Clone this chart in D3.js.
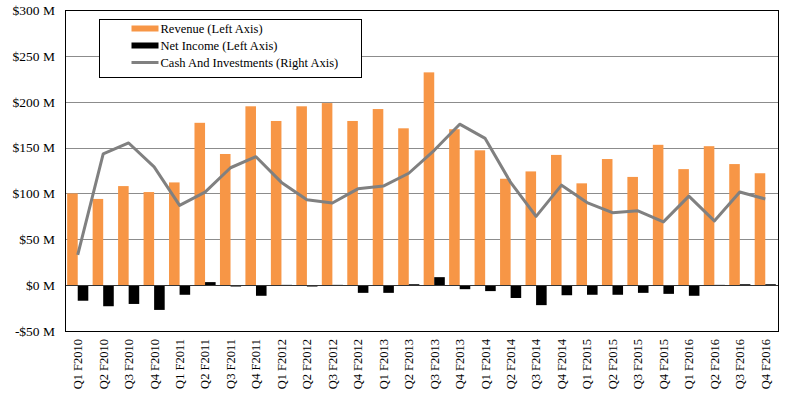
<!DOCTYPE html>
<html>
<head>
<meta charset="utf-8">
<script src="https://cdn.jsdelivr.net/npm/d3@7"></script>
<style>
  body { margin: 0; background: #fff; }
</style>
</head>
<body>
<svg id="chart" width="795" height="396"></svg>
<script>
var quarters = ["Q1 F2010","Q2 F2010","Q3 F2010","Q4 F2010","Q1 F2011","Q2 F2011","Q3 F2011","Q4 F2011",
  "Q1 F2012","Q2 F2012","Q3 F2012","Q4 F2012","Q1 F2013","Q2 F2013","Q3 F2013","Q4 F2013",
  "Q1 F2014","Q2 F2014","Q3 F2014","Q4 F2014","Q1 F2015","Q2 F2015","Q3 F2015","Q4 F2015",
  "Q1 F2016","Q2 F2016","Q3 F2016","Q4 F2016"];

// $M, left axis
var revenue = [100, 94, 108, 101.5, 112, 177, 143, 195,
  179, 195, 198.5, 179, 192, 171, 232, 170,
  147, 116, 124, 142, 111, 137.5, 118, 153,
  126.5, 151.5, 132, 122];

var netIncome = [-17, -23, -20.5, -27, -10.5, 3.3, -1.5, -11.6,
  0.3, -1.5, 0.3, -8.4, -8.4, 1, 8.7, -4.4,
  -6.5, -14, -21.8, -11, -10.5, -10.5, -8.4, -9.5,
  -11.6, 0.3, 1, 1];

// $M, right axis
var cash = [33, 143, 155, 129, 87, 101.5, 128, 140,
  112, 93, 89.5, 105, 108, 122, 147, 175.5,
  160, 112, 75, 109, 90, 79, 81, 69,
  97, 70, 101.5, 94];

var leftTicks = [-50, 0, 50, 100, 150, 200, 250, 300];

var FONT = '"Liberation Serif", "Times New Roman", serif';

var svg = d3.select('#chart');
var margin = {left: 65, right: 17, top: 10, bottom: 65};
var width = 795 - margin.left - margin.right,
    height = 396 - margin.top - margin.bottom;

var g = svg.append('g')
    .attr('transform', 'translate(' + margin.left + ',' + margin.top + ')');

var x0 = d3.scaleBand().domain(quarters).range([0, width]).paddingInner(0.17).paddingOuter(0.085);
var x1 = d3.scaleBand().domain(['rev', 'ni']).range([0, x0.bandwidth()]);
var y = d3.scaleLinear().domain([-50, 300]).range([height, 0]);
var yRight = d3.scaleLinear().domain([-50, 300]).range([height, 0]);

// gridlines
g.append('g')
    .selectAll('line')
    .data(leftTicks.filter(function(d) { return d > -50 && d < 300 && d !== 0; }))
    .enter().append('line')
    .attr('x1', 0).attr('x2', width)
    .attr('y1', function(d) { return Math.round(y(d)) + 0.5; })
    .attr('y2', function(d) { return Math.round(y(d)) + 0.5; })
    .attr('stroke', '#8c8c8c')
    .attr('stroke-width', 1);

// bars
var groups = g.selectAll('.grp')
    .data(quarters)
    .enter().append('g')
    .attr('transform', function(d) { return 'translate(' + x0(d) + ',0)'; });

groups.append('rect')
    .attr('x', x1('rev'))
    .attr('width', x1.bandwidth())
    .attr('y', function(d, i) { return y(Math.max(0, revenue[i])); })
    .attr('height', function(d, i) { return Math.abs(y(revenue[i]) - y(0)); })
    .attr('fill', '#f79646');

groups.append('rect')
    .attr('x', x1('ni'))
    .attr('width', x1.bandwidth())
    .attr('y', function(d, i) { return y(Math.max(0, netIncome[i])); })
    .attr('height', function(d, i) { return Math.max(1, Math.abs(y(netIncome[i]) - y(0))); })
    .attr('fill', '#000');

// zero line
g.append('line')
    .attr('x1', 0).attr('x2', width)
    .attr('y1', Math.round(y(0)) + 0.5).attr('y2', Math.round(y(0)) + 0.5)
    .attr('stroke', '#333').attr('stroke-width', 1);

// cash line
var line = d3.line()
    .x(function(d, i) { return x0(quarters[i]) + x0.bandwidth() / 2; })
    .y(function(d) { return yRight(d); });

g.append('path')
    .datum(cash)
    .attr('d', line)
    .attr('fill', 'none')
    .attr('stroke', '#808080')
    .attr('stroke-width', 3)
    .attr('stroke-linejoin', 'round');

// frame
g.append('rect')
    .attr('x', 0.5).attr('y', 0.5)
    .attr('width', width).attr('height', height)
    .attr('fill', 'none')
    .attr('stroke', '#000')
    .attr('stroke-width', 1);

// left axis labels
var yAxis = d3.axisLeft(y).tickValues(leftTicks).tickSize(0).tickPadding(10)
    .tickFormat(function(d) { return (d < 0 ? '-$' + (-d) : '$' + d) + ' M'; });
var ya = g.append('g').call(yAxis);
ya.select('.domain').remove();
ya.selectAll('text')
    .style('font-size', '13.5px')
    .style('font-family', FONT)
    .attr('fill', '#000');

// right axis (labels not shown in the original)
var yAxisR = d3.axisRight(yRight).tickValues([]).tickSize(0);
g.append('g').attr('transform', 'translate(' + width + ',0)').call(yAxisR).select('.domain').remove();

// x labels
var xAxis = d3.axisBottom(x0).tickSize(0).tickPadding(0);
var xa = g.append('g').attr('transform', 'translate(0,' + height + ')').call(xAxis);
xa.select('.domain').remove();
xa.selectAll('text')
    .style('font-size', '12.5px')
    .style('font-family', FONT)
    .attr('fill', '#000')
    .attr('text-anchor', 'end')
    .attr('dy', '0.35em')
    .attr('transform', 'translate(0,8) rotate(-90)')
    .attr('x', 0).attr('y', 0);

// legend
var legend = svg.append('g').attr('transform', 'translate(99.5,19.5)');
legend.append('rect')
    .attr('width', 262).attr('height', 58)
    .attr('fill', '#fff').attr('stroke', '#000').attr('stroke-width', 1);

var items = [
  {label: 'Revenue (Left Axis)', color: '#f79646', type: 'bar'},
  {label: 'Net Income (Left Axis)', color: '#000', type: 'bar'},
  {label: 'Cash And Investments (Right Axis)', color: '#808080', type: 'line'}
];
var li = legend.selectAll('.li').data(items).enter().append('g')
    .attr('transform', function(d, i) { return 'translate(32,' + (9 + i * 17) + ')'; });
li.append('rect')
    .attr('x', 0)
    .attr('y', function(d) { return d.type === 'bar' ? -3 : -1.5; })
    .attr('width', 27)
    .attr('height', function(d) { return d.type === 'bar' ? 6 : 3; })
    .attr('fill', function(d) { return d.color; });
li.append('text')
    .attr('x', 29).attr('y', 0).attr('dy', '0.35em')
    .style('font-size', '12.5px')
    .style('font-family', FONT)
    .text(function(d) { return d.label; });
</script>
</body>
</html>
